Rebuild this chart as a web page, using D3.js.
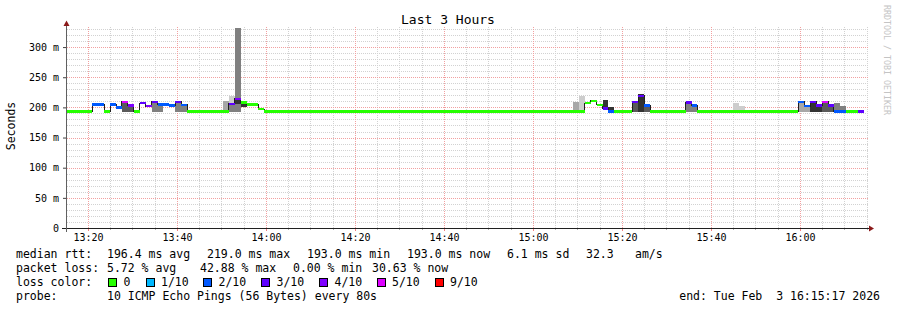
<!DOCTYPE html>
<meta charset="utf-8">
<script src="https://d3js.org/d3.v7.min.js"></script>
<style>
  body { margin: 0; background: #fff; }
  text { font-family: "DejaVu Sans Mono", monospace; fill: #000; white-space: pre; }
</style>
<div id="chart"></div>
<script>

// time window of the graph
var rangeStart = "13:15:17", rangeEnd = "16:15:17";
var yMax = 333.3;

// median rtt (ms) and lost pings (of 10) per step; a step runs until the next start
var segStart  = ["13:15:17","13:20:58","13:23:38","13:24:58","13:26:18","13:27:38","13:28:58","13:30:18",
                 "13:31:38","13:32:58","13:34:18","13:35:38","13:36:58","13:38:18","13:39:38","13:40:58",
                 "13:42:18","13:51:38","13:52:58","13:54:18","13:55:38","13:58:18","13:59:38","15:11:38",
                 "15:12:58","15:14:18","15:15:38","15:16:58","15:18:18","15:22:18","15:23:38","15:24:58",
                 "15:26:18","15:34:18","15:35:38","15:36:58","15:59:38","16:00:58","16:02:18","16:03:38",
                 "16:04:58","16:06:18","16:07:38","16:10:18","16:12:58","16:14:18"];
var segMedian = [193,205,193,205,200,209,203,193,
                 207,202,209,205,205,203,209,204,
                 193,206,214,208,205,197,193,207,
                 211,204,198,193,193,209,219,203,
                 193,208,203,193,209,202,209,203,
                 209,203,193,193,193,null];
var segLoss   = [0,2,0,2,2,5,4,0,
                 3,4,3,2,2,2,3,2,
                 0,3,4,0,0,0,0,0,
                 0,0,3,2,0,3,3,2,
                 0,3,2,0,2,2,3,3,
                 5,3,2,0,3,null];

// smoke: spread of the pings in one 80s probe round (ms), density 1 (few) .. 5 (many)
var smokeStart   = ["13:27:38","13:28:58","13:34:18","13:35:38","13:39:38","13:40:58","13:50:18","13:51:38",
                    "13:51:38","13:52:58","13:52:58","13:54:18","15:08:58","15:10:18","15:15:38","15:16:58",
                    "15:22:18","15:23:38","15:24:58","15:34:18","15:35:38","15:44:58","15:46:18","15:59:38",
                    "16:00:58","16:02:18","16:03:38","16:04:58","16:06:18","16:07:38","16:08:58"];
var smokeLo      = [193,193,193,193,193,193,193,193, 193,193,206,200,193,193,198,193,
                    193,193,193,193,193,193,193,193, 193,193,193,193,193,193,193];
var smokeHi      = [209,203,209,205,209,204,210,219, 206,332,212,206,209,219,212,200,
                    211,223,203,208,203,208,202,209, 202,209,203,209,203,208,202];
var smokeDensity = [4,4,3,3,3,3,2,1, 3,3,5,5,2,1,5,5,
                    4,5,4,3,3,1,1,2, 2,5,5,4,4,3,3];
var probeStep = 80; // seconds per probe round

// axis ticks
var yTicks = [0, 50, 100, 150, 200, 250, 300];

// legend
var lossLabels = ["0","1/10","2/10","3/10","4/10","5/10","9/10"];
var lossLevels = [0, 1, 2, 3, 4, 5, 9];
var lossColors = ["#26ff00","#00b8ff","#0059ff","#5e00ff","#7e00ff","#dd00ff","#ff0000"];
var rttStats  = ["196.4 ms avg","219.0 ms max","193.0 ms min","193.0 ms now","6.1 ms sd","32.3","am/s"];
var lossStats = ["5.72 % avg","42.88 % max","0.00 % min","30.63 % now"];
var probeText = "10 ICMP Echo Pings (56 Bytes) every 80s";
var endText = "end: Tue Feb  3 16:15:17 2026";

var W = 897, H = 310;
var svg = d3.select("#chart").append("svg")
    .attr("width", W).attr("height", H)
    .style("display", "block");

var parse = d3.timeParse("%H:%M:%S");
var t0 = parse(rangeStart), t1 = parse(rangeEnd);

var x = d3.scaleTime().domain([t0, t1]).range([67, 868]);
var y = d3.scaleLinear().domain([0, yMax]).range([228, 27]);

var lossColor = d3.scaleOrdinal().domain(lossLevels).range(lossColors);
var smokeColor = d3.scaleLinear().domain([1, 5]).range(["#cdcdcd", "#333333"]);

// title
svg.append("text")
  .attr("x", 448).attr("y", 24)
  .attr("text-anchor", "middle")
  .style("font-size", "13px")
  .text("Last 3 Hours");

// vertical label
svg.append("text")
  .attr("transform", "translate(15,126) rotate(-90)")
  .attr("text-anchor", "middle")
  .style("font-size", "11.5px")
  .text("Seconds");

// watermark
svg.append("text")
  .attr("transform", "translate(884,5) rotate(90)")
  .style("font-size", "8.3px")
  .style("fill", "#c4c4c4")
  .text("RRDTOOL / TOBI OETIKER");

// grid
var grid = svg.append("g").attr("shape-rendering", "crispEdges");
var minorT = x.ticks(d3.timeMinute.every(5)), majorT = x.ticks(d3.timeMinute.every(20));
var majorKeys = majorT.map(function(d){ return +d; });

grid.selectAll(".vmin")
  .data(minorT.filter(function(d){ return majorKeys.indexOf(+d) < 0; }))
  .enter().append("line")
    .attr("x1", function(d){ return Math.round(x(d)) + 0.5; })
    .attr("x2", function(d){ return Math.round(x(d)) + 0.5; })
    .attr("y1", 228).attr("y2", 27)
    .attr("stroke", "#d2d2d2").attr("stroke-dasharray", "1,1");

var yMinor = d3.range(10, yMax, 10).filter(function(v){ return v % 50 !== 0; });
grid.selectAll(".hmin")
  .data(yMinor)
  .enter().append("line")
    .attr("x1", 67).attr("x2", 868)
    .attr("y1", function(d){ return Math.round(y(d)) + 0.5; })
    .attr("y2", function(d){ return Math.round(y(d)) + 0.5; })
    .attr("stroke", "#d2d2d2").attr("stroke-dasharray", "1,1");

grid.selectAll(".vmaj")
  .data(majorT)
  .enter().append("line")
    .attr("x1", function(d){ return Math.round(x(d)) + 0.5; })
    .attr("x2", function(d){ return Math.round(x(d)) + 0.5; })
    .attr("y1", 228).attr("y2", 27)
    .attr("stroke", "#f2a0a0").attr("stroke-dasharray", "1,1");

grid.selectAll(".hmaj")
  .data(yTicks.slice(1))
  .enter().append("line")
    .attr("x1", 67).attr("x2", 868)
    .attr("y1", function(d){ return Math.round(y(d)) + 0.5; })
    .attr("y2", function(d){ return Math.round(y(d)) + 0.5; })
    .attr("stroke", "#f2a0a0").attr("stroke-dasharray", "1,1");

// build step records
var segs = segStart.slice(0, -1).map(function(s, i) {
  return { a: parse(s), b: parse(segStart[i + 1]), v: segMedian[i], loss: segLoss[i] };
});
var smoke = smokeStart.map(function(s, i) {
  var a = parse(s);
  return { a: a, b: d3.timeSecond.offset(a, probeStep), lo: smokeLo[i], hi: smokeHi[i], dens: smokeDensity[i] };
}).sort(function(p, q){ return p.dens - q.dens; });

var plot = svg.append("g").attr("shape-rendering", "crispEdges");

// smoke
plot.selectAll(".smoke")
  .data(smoke)
  .enter().append("rect")
    .attr("x", function(d){ return x(d.a); })
    .attr("width", function(d){ return x(d.b) - x(d.a); })
    .attr("y", function(d){ return y(d.hi); })
    .attr("height", function(d){ return y(d.lo) - y(d.hi); })
    .attr("fill", function(d){ return smokeColor(d.dens); });

// thin dark median line (shows at the steps)
var stepPts = segs.map(function(d){ return [d.a, d.v]; });
stepPts.push([segs[segs.length - 1].b, segs[segs.length - 1].v]);
plot.append("path")
  .datum(stepPts)
  .attr("fill", "none")
  .attr("stroke", "#202020")
  .attr("stroke-width", 1)
  .attr("d", d3.line()
    .x(function(d){ return x(d[0]); })
    .y(function(d){ return y(d[1]); })
    .curve(d3.curveStepAfter));

// loss coloured median band
plot.selectAll(".med")
  .data(segs)
  .enter().append("rect")
    .attr("x", function(d){ return x(d.a); })
    .attr("width", function(d){ return x(d.b) - x(d.a); })
    .attr("y", function(d){ return y(d.v) - 1.2; })
    .attr("height", 2.4)
    .attr("fill", function(d){ return lossColor(d.loss); });

// axes
var yAxis = svg.append("g")
  .attr("transform", "translate(67,0)")
  .call(d3.axisLeft(y).tickValues(yTicks).tickSize(4).tickPadding(4)
    .tickFormat(function(d){ return d === 0 ? "0" : d + " m"; }));
yAxis.select(".domain").remove();
yAxis.selectAll("text").style("font-size", "10px").style("font-family", "DejaVu Sans Mono");
yAxis.selectAll("line").attr("stroke", "#404040");

var xAxis = svg.append("g")
  .attr("transform", "translate(0,228)")
  .call(d3.axisBottom(x).ticks(d3.timeMinute.every(20)).tickSize(3).tickPadding(3)
    .tickFormat(d3.timeFormat("%H:%M")));
xAxis.select(".domain").remove();
xAxis.selectAll("text").style("font-size", "10px").style("font-family", "DejaVu Sans Mono");
xAxis.selectAll("line").attr("stroke", "#f08080");

svg.append("g").attr("shape-rendering", "crispEdges")
  .selectAll("line")
  .data(minorT.filter(function(d){ return majorKeys.indexOf(+d) < 0; }))
  .enter().append("line")
    .attr("x1", function(d){ return Math.round(x(d)) + 0.5; })
    .attr("x2", function(d){ return Math.round(x(d)) + 0.5; })
    .attr("y1", 228).attr("y2", 230)
    .attr("stroke", "#b0b0b0");

// axis lines with arrows
svg.append("line").attr("x1", 62).attr("x2", 870).attr("y1", 228.5).attr("y2", 228.5)
  .attr("stroke", "#202020").attr("shape-rendering", "crispEdges");
svg.append("line").attr("x1", 66.5).attr("x2", 66.5).attr("y1", 232).attr("y2", 24)
  .attr("stroke", "#606060").attr("shape-rendering", "crispEdges");
svg.append("path").attr("d", "M869,225.5L874,228.5L869,231.5Z").attr("fill", "#8b1a1a");
svg.append("path").attr("d", "M63.5,26L66.5,20.5L69.5,26Z").attr("fill", "#8b1a1a");

// legend
var leg = svg.append("g").style("font-size", "11.5px");
var statX = [107, 207, 307, 407, 507, 586, 635];
leg.append("text").attr("x", 16).attr("y", 258).text("median rtt:");
leg.selectAll(".rtt").data(rttStats).enter().append("text")
  .attr("x", function(d, i){ return statX[i]; }).attr("y", 258).text(function(d){ return d; });

var lossX = [107, 200, 293, 372];
leg.append("text").attr("x", 16).attr("y", 272).text("packet loss:");
leg.selectAll(".pl").data(lossStats).enter().append("text")
  .attr("x", function(d, i){ return lossX[i]; }).attr("y", 272).text(function(d){ return d; });

leg.append("text").attr("x", 16).attr("y", 286).text("loss color:");
var swX = [108.5, 146, 203.5, 261.5, 319.5, 377, 435];
var sw = leg.selectAll(".sw").data(lossLabels).enter().append("g")
  .attr("transform", function(d, i){ return "translate(" + swX[i] + ",0)"; });
sw.append("rect").attr("x", 0).attr("y", 278.5).attr("width", 8).attr("height", 8)
  .attr("fill", function(d, i){ return lossColor(lossLevels[i]); })
  .attr("stroke", "#000").attr("shape-rendering", "crispEdges");
sw.append("text").attr("x", 15).attr("y", 286).text(function(d){ return d; });

leg.append("text").attr("x", 16).attr("y", 300).text("probe:");
leg.append("text").attr("x", 107).attr("y", 300).text(probeText);
leg.append("text").attr("x", 880).attr("y", 300).attr("text-anchor", "end").text(endText);

</script>
